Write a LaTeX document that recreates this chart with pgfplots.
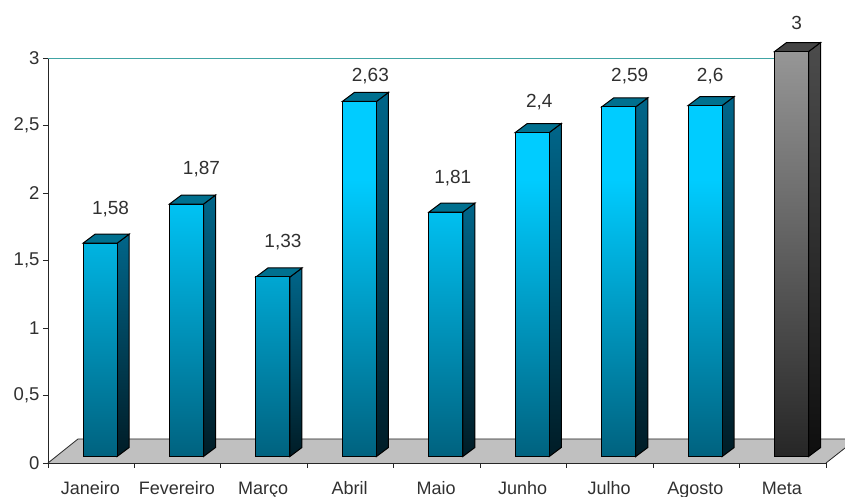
\documentclass[border=0pt]{standalone}
\usepackage{fontspec}
\setmainfont{Liberation Sans}
\usepackage{pgfplots}
\pgfplotsset{compat=1.18}
\definecolor{azultopo}{HTML}{00CCFF}
\definecolor{azulbase}{HTML}{00627F}
\definecolor{azullado}{HTML}{00668A}
\definecolor{azulladob}{HTML}{001C26}
\definecolor{azultampa}{HTML}{00708F}
\definecolor{cinzatopo}{HTML}{969696}
\definecolor{cinzabase}{HTML}{262626}
\definecolor{cinzalado}{HTML}{4C4C4C}
\definecolor{cinzaladob}{HTML}{0E0E0E}
\definecolor{cinzatampa}{HTML}{444444}
\definecolor{piso}{HTML}{C0C0C0}
\definecolor{linha}{HTML}{40A4A4}
\definecolor{texto}{HTML}{303030}
\pgfdeclareverticalshading{azulfrente}{100bp}{
  color(0bp)=(azulbase); color(25bp)=(azulbase);
  color(64bp)=(azultopo); color(75bp)=(azultopo); color(100bp)=(azultopo)}
% lado e tampa da barra: {centro}{valor}{lado topo}{lado base}{tampa}
\newcommand{\faces}[5]{%
  \pgfmathsetmacro\xb{#1+0.197}%
  \pgfmathsetmacro\xc{#1+0.336}%
  \pgfmathsetmacro\xa{#1-0.197}%
  \pgfmathsetmacro\xd{#1-0.058}%
  \pgfmathsetmacro\yt{#2+0.0667}%
  \addplot[draw=black, line width=1pt, top color=#3, bottom color=#4]
    coordinates {(\xb,0) (\xc,0.0667) (\xc,\yt) (\xb,#2)} -- cycle;
  \addplot[draw=black, line width=1pt, fill=#5]
    coordinates {(\xa,#2) (\xb,#2) (\xc,\yt) (\xd,\yt)} -- cycle;
}
% rotulo: {centro}{valor}{texto}{dx}{dy}
\newcommand{\rotulo}[5]{%
  \node[font=\fontsize{19}{20}\selectfont, text=texto, xshift=#4pt, yshift=#5pt]
    at (axis cs:#1,#2) {#3};
}
\pgfplotstableread{
x     v
0.602 1.58
1.602 1.87
2.602 1.33
3.602 2.63
4.602 1.81
5.602 2.40
6.602 2.59
7.602 2.60
}\meses
\pgfplotstableread{
x     v
8.602 3
}\meta
\begin{document}
\begin{tikzpicture}
  \useasboundingbox (-48pt,-34pt) rectangle (797pt,463pt);
  \begin{axis}[
    scale only axis, width=778pt, height=405pt,
    at={(0pt,0pt)}, anchor=south west,
    xmin=0, xmax=9, ymin=-0.048, ymax=2.952,
    clip=false,
    axis x line*=bottom, axis y line*=left,
    axis line style={draw=black!85, line width=0.8pt},
    tick style={draw=black!85, line width=0.8pt},
    tick align=outside, major tick length=5pt,
    xtick={0,1,...,9}, xticklabels={},
    extra x ticks={0.49,1.49,2.49,3.49,4.49,5.49,6.49,7.49,8.49},
    extra x tick labels={Janeiro,Fevereiro,Março,Abril,Maio,Junho,Julho,Agosto,Meta},
    extra x tick style={major tick length=0pt,
      tick label style={yshift=-15pt, text height=13pt, text depth=4pt}},
    ytick={-0.048,0.452,0.952,1.452,1.952,2.452,2.952},
    yticklabels={0,{0,5},1,{1,5},2,{2,5},3},
    tick label style={font=\fontsize{18.5}{20}\selectfont, text=texto},
    x tick label style={font=\fontsize{18}{20}\selectfont, text=texto},
  ]
    % piso
    \addplot[draw=none, fill=piso] coordinates
      {(0,-0.048) (0.347,0.13) (9.22,0.13) (9.22,0.063) (9,-0.048)} -- cycle;
    \addplot[draw=black!85, line width=0.8pt] coordinates
      {(0,-0.048) (0.347,0.13) (9.22,0.13)};
    \addplot[draw=black!85, line width=0.8pt] coordinates
      {(9,-0.048) (9.22,0.063)};
    % linha do 3
    \addplot[draw=linha, line width=0.9pt] coordinates {(0,2.952) (8.41,2.952)};
    % lados e tampas
    \faces{0.602}{1.58}{azullado}{azulladob}{azultampa}
    \faces{1.602}{1.87}{azullado}{azulladob}{azultampa}
    \faces{2.602}{1.33}{azullado}{azulladob}{azultampa}
    \faces{3.602}{2.63}{azullado}{azulladob}{azultampa}
    \faces{4.602}{1.81}{azullado}{azulladob}{azultampa}
    \faces{5.602}{2.40}{azullado}{azulladob}{azultampa}
    \faces{6.602}{2.59}{azullado}{azulladob}{azultampa}
    \faces{7.602}{2.60}{azullado}{azulladob}{azultampa}
    \faces{8.602}{3}{cinzalado}{cinzaladob}{cinzatampa}
    % frentes
    \addplot[ybar, bar width=34pt, bar shift=0pt, draw=black, line width=1pt,
      shade, shading=azulfrente] table[x=x, y=v] {\meses};
    \addplot[ybar, bar width=34pt, bar shift=0pt, draw=black, line width=1pt,
      top color=cinzatopo, bottom color=cinzabase] table[x=x, y=v] {\meta};
    % rotulos
    \rotulo{0.602}{1.58}{1,58}{10.5}{34.5}
    \rotulo{1.602}{1.87}{1,87}{15}{34.5}
    \rotulo{2.602}{1.33}{1,33}{10}{34.5}
    \rotulo{3.602}{2.63}{2,63}{11}{25}
    \rotulo{4.602}{1.81}{1,81}{7}{34.5}
    \rotulo{5.602}{2.40}{2,4}{7}{30.5}
    \rotulo{6.602}{2.59}{2,59}{11}{30.5}
    \rotulo{7.602}{2.60}{2,6}{5}{29.5}
    \rotulo{8.602}{3}{3}{5}{28.5}
  \end{axis}
\end{tikzpicture}
\end{document}
